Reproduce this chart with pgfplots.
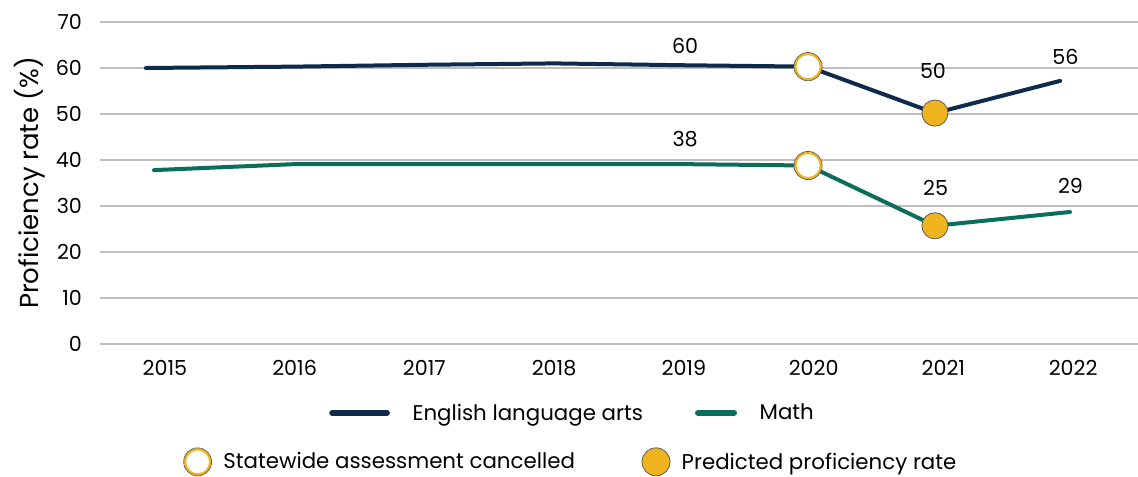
\documentclass[border=0pt]{standalone}
\usepackage{pgfplots}
\pgfplotsset{compat=1.18}
\usepackage{fontspec}
\setmainfont{Poppins}
\definecolor{ela}{HTML}{0F2B4C}
\definecolor{mth}{HTML}{0B6E5A}
\definecolor{gold}{HTML}{F0B41E}
\definecolor{grid}{HTML}{D0D0D0}
\definecolor{ring}{HTML}{5A5A5A}
\begin{document}
\begin{tikzpicture}[x=0.75pt,y=0.75pt]
\path[use as bounding box] (-100,-133) rectangle (1038,344);
\begin{axis}[
  at={(0,0)}, anchor=south west,
  scale only axis, width=778.5pt, height=241.5pt,
  xmin=-0.5, xmax=7.5, ymin=0, ymax=70,
  xtick={0,...,7},
  xticklabels={2015,2016,2017,2018,2019,2020,2021,2022},
  ytick={0,10,...,70},
  axis line style={draw=none},
  xmajorgrids=false, ymajorgrids=true, grid style={grid, line width=1.3pt},
  xtick style={draw=none}, ytick style={draw=none},
  major tick length=0pt,
  tick label style={font=\fontsize{15.5}{17}\selectfont, text=black},
  yticklabel style={xshift=-10pt},
  xticklabel style={yshift=-9pt},
  /pgf/number format/assume math mode=true,
  ylabel={Proficiency rate (\%)},
  ylabel style={font=\fontsize{19.5}{21}\selectfont, anchor=center, at={(axis description cs:-0.0674,0.5)}},
  legend style={draw=none, fill=none, inner sep=0pt, at={(0.2206,-0.214)}, anchor=west,
    font=\fontsize{16}{18}\selectfont, legend columns=2,
    /tikz/every odd column/.append style={column sep=15pt},
    /tikz/every even column/.append style={column sep=37pt}},
  clip=false,
]
\addplot[ela, line width=3pt, line cap=round,
  legend image code/.code={\draw[ela, line width=4.5pt, line cap=round] (0pt,0pt) -- (41pt,0pt);}] coordinates {
  (-0.146,60.0) (1,60.3) (2,60.7) (3,61.0) (4,60.6) (4.957,60.3) (5.935,50.2) (6.90,57.2)};
\addlegendentry{English language arts}
\addplot[mth, line width=3pt, line cap=round,
  legend image code/.code={\draw[mth, line width=4.5pt, line cap=round] (0pt,0pt) -- (27pt,0pt);}] coordinates {
  (-0.084,37.8) (1,39.1) (2,39.1) (3,39.1) (4,39.1) (4.957,38.8) (5.935,25.7) (6.976,28.7)};
\addlegendentry{Math}
% cancelled markers
\addplot[only marks, mark=*, mark size=9.6pt,
  mark options={fill=white, draw=gold, line width=1.8pt}]
  coordinates {(4.957,60.3) (4.957,38.8)};
\addplot[only marks, mark=o, mark size=10.6pt,
  mark options={draw=ring, line width=0.5pt}]
  coordinates {(4.957,60.3) (4.957,38.8)};
% predicted markers
\addplot[only marks, mark=*, mark size=9.8pt,
  mark options={fill=gold, draw=ring, line width=0.6pt}]
  coordinates {(5.935,50.2) (5.935,25.7)};
% data labels
\node[font=\fontsize{15.5}{17}\selectfont] at (axis cs:4.01,64.8) {60};
\node[font=\fontsize{15.5}{17}\selectfont] at (axis cs:4.01,44.6) {38};
\node[font=\fontsize{15.5}{17}\selectfont] at (axis cs:5.92,59.3) {50};
\node[font=\fontsize{15.5}{17}\selectfont] at (axis cs:5.94,33.9) {25};
\node[font=\fontsize{15.5}{17}\selectfont] at (axis cs:6.94,62.4) {56};
\node[font=\fontsize{15.5}{17}\selectfont] at (axis cs:6.98,34.3) {29};
\end{axis}
\begin{axis}[
  at={(0,0)}, anchor=south west,
  scale only axis, width=778.5pt, height=241.5pt,
  xmin=0, xmax=1, ymin=0, ymax=1,
  axis lines=none, xtick=\empty, ytick=\empty,
  legend style={draw=none, fill=none, inner sep=0pt, at={(0.080,-0.366)}, anchor=west,
    font=\fontsize{16}{18}\selectfont, legend columns=2,
    /tikz/every odd column/.append style={column sep=6.5pt},
    /tikz/every even column/.append style={column sep=48pt}},
]
\addlegendimage{legend image code/.code={
  \fill[white, draw=gold, line width=1.8pt] (0pt,0pt) circle [radius=9.5pt];
  \draw[ring, line width=0.5pt] (0pt,0pt) circle [radius=10.5pt];}}
\addlegendentry{Statewide assessment cancelled}
\addlegendimage{legend image code/.code={
  \fill[gold, draw=ring, line width=0.6pt] (0pt,0pt) circle [radius=10.5pt];}}
\addlegendentry{Predicted proficiency rate}
\end{axis}
\end{tikzpicture}
\end{document}
